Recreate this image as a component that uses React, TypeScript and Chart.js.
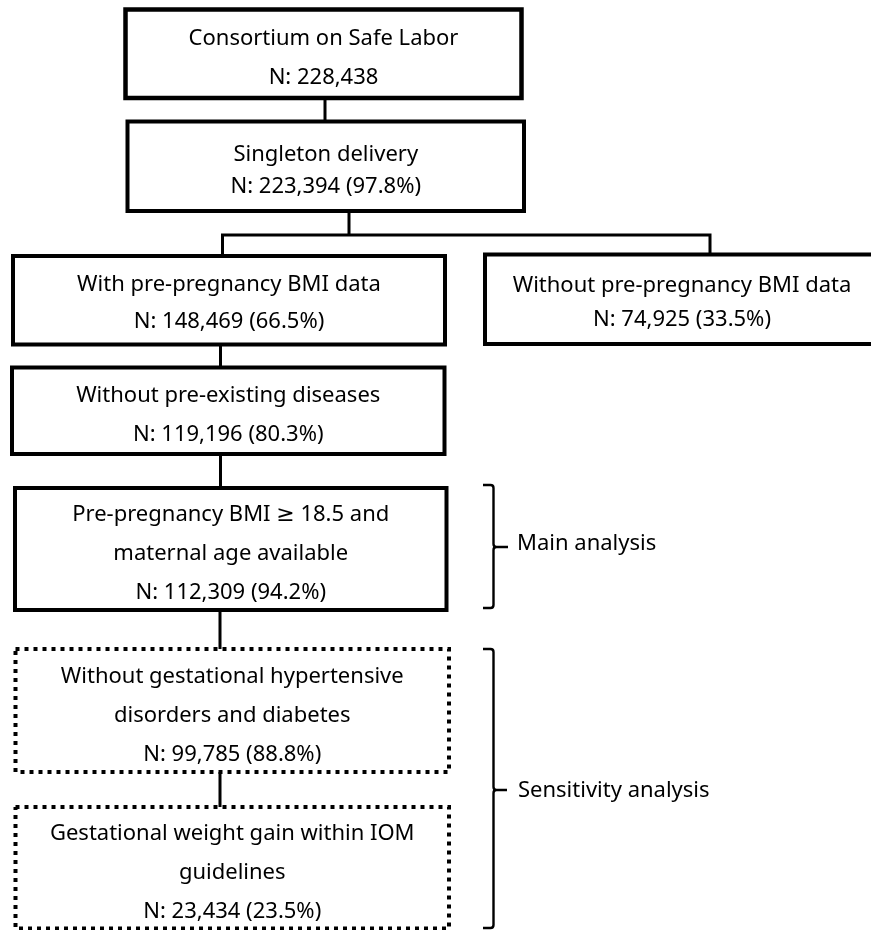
import React, { useEffect, useRef } from "react";
import { Chart, registerables } from "chart.js";

Chart.register(...registerables);

// ---------- data ----------
const stepTitles: string[][] = [
  ["Consortium on Safe Labor"],
  ["Singleton delivery"],
  ["With pre-pregnancy BMI data"],
  ["Without pre-pregnancy BMI data"],
  ["Without pre-existing diseases"],
  ["Pre-pregnancy BMI \u2265 18.5 and", "maternal age available"],
  ["Without gestational hypertensive", "disorders and diabetes"],
  ["Gestational weight gain within IOM", "guidelines"],
];
const stepCounts: number[] = [228438, 223394, 148469, 74925, 119196, 112309, 99785, 23434];
const stepPercents: (number | null)[] = [null, 97.8, 66.5, 33.5, 80.3, 94.2, 88.8, 23.5];
const stepDotted: boolean[] = [false, false, false, false, false, false, true, true];
const bracketLabels: string[] = ["Main analysis", "Sensitivity analysis"];

// ---------- layout (in scale units: x 0..871, y 0..930 top-down) ----------
const W = 871;
const H = 930;
const BOXES = [
  { x0: 125.5, x1: 521.5, y0: 9.5, y1: 98, gap: 39, lw: 4.5, dy: 4.5 },
  { x0: 127.5, x1: 524, y0: 121.5, y1: 211, gap: 32, lw: 4, dy: 4 },
  { x0: 13, x1: 445, y0: 256, y1: 344.5, gap: 37, lw: 4, dy: 3 },
  { x0: 485, x1: 879, y0: 254.5, y1: 344, gap: 34, lw: 4, dy: 3 },
  { x0: 12, x1: 444.5, y0: 367.5, y1: 454, gap: 39, lw: 4, dy: 4 },
  { x0: 15, x1: 446.5, y0: 488, y1: 610, gap: 39, lw: 4, dy: 5 },
  { x0: 15.5, x1: 449, y0: 649, y1: 772, gap: 39, lw: 4, dy: 5 },
  { x0: 15.5, x1: 449, y0: 807, y1: 928.5, gap: 39, lw: 4, dy: 5 },
];
const CONNECTORS: { x: number; y: number }[][] = [
  [{ x: 325, y: 98 }, { x: 325, y: 121.5 }],
  [{ x: 349, y: 211 }, { x: 349, y: 235 }],
  [{ x: 222.5, y: 256 }, { x: 222.5, y: 235 }, { x: 710, y: 235 }, { x: 710, y: 254.5 }],
  [{ x: 220.5, y: 344.5 }, { x: 220.5, y: 367.5 }],
  [{ x: 220.5, y: 454 }, { x: 220.5, y: 488 }],
  [{ x: 220, y: 610 }, { x: 220, y: 649 }],
  [{ x: 220, y: 772 }, { x: 220, y: 807 }],
];
const BRACES = [
  { xe: 483, xv: 493.5, xt: 508, top: 485, bot: 608, mid: 547, labelX: 517, labelY: 544 },
  { xe: 483, xv: 493.5, xt: 507, top: 649, bot: 928, mid: 790, labelX: 518, labelY: 791 },
];
const FONT = '22px "Noto Sans", "DejaVu Sans", sans-serif';

function fmtCount(i: number): string {
  const n = "N: " + stepCounts[i].toLocaleString("en-US");
  const p = stepPercents[i];
  return p == null ? n : `${n} (${p.toFixed(1)}%)`;
}

const flowPlugin = {
  id: "flowText",
  afterDatasetsDraw(chart: any) {
    const ctx: CanvasRenderingContext2D = chart.ctx;
    const xs = chart.scales.x;
    const ys = chart.scales.y;
    const px = (v: number) => xs.getPixelForValue(v);
    const py = (v: number) => ys.getPixelForValue(v);
    ctx.save();
    ctx.fillStyle = "#000";
    ctx.font = FONT;
    ctx.textAlign = "center";
    ctx.textBaseline = "middle";
    BOXES.forEach((b, i) => {
      const lines = [...stepTitles[i], fmtCount(i)];
      const cx = (b.x0 + b.x1) / 2;
      const cy = (b.y0 + b.y1) / 2 + b.dy;
      lines.forEach((t, j) => {
        const y = cy + (j - (lines.length - 1) / 2) * b.gap;
        ctx.fillText(t, px(cx), py(y));
      });
    });
    // braces
    ctx.strokeStyle = "#000";
    ctx.lineWidth = 2.4;
    ctx.lineJoin = "round";
    BRACES.forEach((br, k) => {
      const r = 3;
      ctx.beginPath();
      ctx.moveTo(px(br.xe), py(br.top));
      ctx.lineTo(px(br.xv - r), py(br.top));
      ctx.quadraticCurveTo(px(br.xv), py(br.top), px(br.xv), py(br.top + r));
      ctx.lineTo(px(br.xv), py(br.mid - r));
      ctx.quadraticCurveTo(px(br.xv), py(br.mid), px(br.xv + r), py(br.mid));
      ctx.lineTo(px(br.xt), py(br.mid));
      ctx.moveTo(px(br.xv + r), py(br.mid));
      ctx.quadraticCurveTo(px(br.xv), py(br.mid), px(br.xv), py(br.mid + r));
      ctx.lineTo(px(br.xv), py(br.bot - r));
      ctx.quadraticCurveTo(px(br.xv), py(br.bot), px(br.xv - r), py(br.bot));
      ctx.lineTo(px(br.xe), py(br.bot));
      ctx.stroke();
      ctx.textAlign = "left";
      ctx.fillText(bracketLabels[k], px(br.labelX), py(br.labelY));
    });
    ctx.restore();
  },
};

export default function App() {
  const ref = useRef<HTMLCanvasElement | null>(null);
  useEffect(() => {
    document.body.style.margin = "0";
    document.body.style.overflow = "hidden";
    const canvas = ref.current;
    if (!canvas) return;
    const boxSets = BOXES.map((b, i) => ({
      data: [
        { x: b.x0, y: b.y0 },
        { x: b.x1, y: b.y0 },
        { x: b.x1, y: b.y1 },
        { x: b.x0, y: b.y1 },
        { x: b.x0, y: b.y0 },
      ],
      showLine: true,
      borderColor: "#000",
      borderWidth: b.lw,
      borderDash: stepDotted[i] ? [4, 5] : [],
      borderCapStyle: stepDotted[i] ? "butt" : "square",
      borderJoinStyle: "miter",
      pointRadius: 0,
      fill: false,
      tension: 0,
      clip: false,
    }));
    const connSets = CONNECTORS.map((c) => ({
      data: c,
      showLine: true,
      borderColor: "#000",
      borderWidth: 3,
      borderCapStyle: "butt",
      borderJoinStyle: "miter",
      pointRadius: 0,
      fill: false,
      tension: 0,
      clip: false,
    }));
    const chart = new Chart(canvas, {
      type: "scatter",
      data: { datasets: [...connSets, ...boxSets] as any },
      options: {
        animation: false,
        responsive: false,
        events: [],
        layout: { padding: 0 },
        plugins: { legend: { display: false }, tooltip: { enabled: false } },
        scales: {
          x: { type: "linear", min: 0, max: W, display: false },
          y: { type: "linear", min: 0, max: H, reverse: true, display: false },
        },
      },
      plugins: [flowPlugin],
    } as any);
    return () => chart.destroy();
  }, []);
  return (
    <div style={{ width: W, height: H, background: "#fff" }}>
      <canvas ref={ref} width={W} height={H} style={{ display: "block", width: W, height: H }} />
    </div>
  );
}
